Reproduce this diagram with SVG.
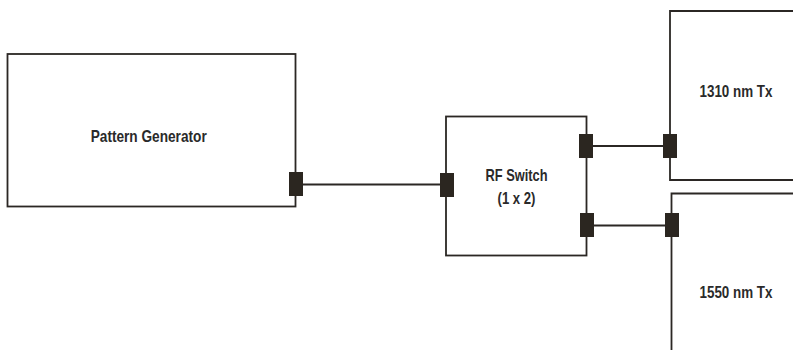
<svg xmlns="http://www.w3.org/2000/svg" width="793" height="357" viewBox="0 0 793 357">
<style>
.box{fill:none;stroke:#2b2724;stroke-width:1.8}
.port{fill:#2b2620;stroke:none}
.wire{fill:none;stroke:#2b2724;stroke-width:1.8}
.lbl{font-family:"Liberation Sans",Arial,sans-serif;font-weight:bold;font-size:17px;fill:#2a2a2a;text-anchor:middle}
</style>
<rect width="793" height="357" fill="#ffffff"/>
<g id="connectors">
<line class="wire" x1="303" y1="184.5" x2="440" y2="184.5"/>
<line class="wire" x1="593" y1="146" x2="663" y2="146"/>
<line class="wire" x1="594" y1="225.5" x2="665" y2="225.5"/>
</g>
<g id="pattern-generator">
<rect class="box" x="7.5" y="54" width="288" height="152.5"/>
<rect class="port" x="289" y="172" width="14" height="24"/>
<text class="lbl" x="148.7" y="141.5" textLength="116" lengthAdjust="spacingAndGlyphs">Pattern Generator</text>
</g>
<g id="rf-switch">
<rect class="box" x="446" y="116.5" width="140.5" height="139"/>
<rect class="port" x="440" y="173" width="14" height="24"/>
<rect class="port" x="579" y="134" width="14" height="24"/>
<rect class="port" x="580" y="213" width="14" height="24"/>
<text class="lbl" x="516.5" y="181" textLength="62" lengthAdjust="spacingAndGlyphs">RF Switch</text>
<text class="lbl" x="516.5" y="204" textLength="38" lengthAdjust="spacingAndGlyphs">(1 x 2)</text>
</g>
<g id="tx-1310">
<path class="box" d="M793,11 H670 V180 H793"/>
<rect class="port" x="663" y="134" width="14" height="24"/>
<text class="lbl" x="736" y="96.5" textLength="73" lengthAdjust="spacingAndGlyphs">1310 nm Tx</text>
</g>
<g id="tx-1550">
<path class="box" d="M793,193.5 H671.5 V350"/>
<rect class="port" x="665" y="213" width="14" height="24"/>
<text class="lbl" x="736" y="298" textLength="73" lengthAdjust="spacingAndGlyphs">1550 nm Tx</text>
</g>
</svg>
